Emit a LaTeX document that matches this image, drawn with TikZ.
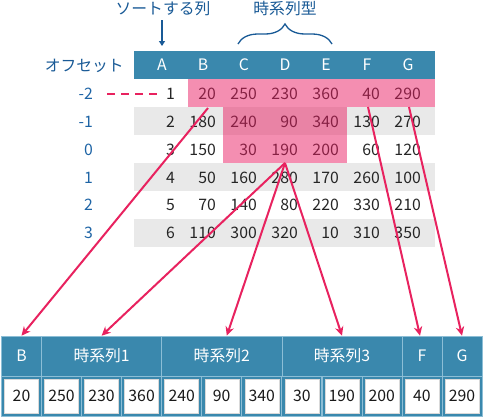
\documentclass[tikz,border=0pt]{standalone}
\usepackage{fontspec}
\setmainfont{Noto Sans CJK JP}
\usetikzlibrary{decorations.pathreplacing,arrows.meta}
\definecolor{hdr}{RGB}{58,136,173}
\definecolor{lbl}{RGB}{30,100,165}
\definecolor{dblue}{RGB}{25,90,150}
\definecolor{pk}{RGB}{233,30,99}
\definecolor{pkline}{RGB}{232,34,95}
\definecolor{rowgray}{RGB}{233,233,233}
\definecolor{sep}{RGB}{140,190,214}
\begin{document}
\begin{tikzpicture}[x=1pt,y=-1pt,
  font=\fontsize{15.8}{18}\selectfont,
  num/.style={anchor=east, inner sep=0pt, text=black!85},
  hd/.style={text=white, inner sep=0pt},
  rl/.style={text=lbl, anchor=east, inner sep=0pt},
  toplbl/.style={text=dblue, inner sep=0pt},
  conn/.style={pkline, line width=2pt, -{Stealth[length=9pt,width=8.5pt]}},
  bh/.style={fill=hdr, draw=sep, line width=0.6pt, text=white, minimum height=40pt, inner sep=0pt},
  cellbg/.style={fill=hdr, draw=sep, line width=0.6pt, minimum width=40pt, minimum height=40pt, inner sep=0pt},
  valbox/.style={fill=white, draw=black!15, line width=0.4pt, minimum width=34pt, minimum height=34pt, inner sep=0pt, text=black!90}]
\useasboundingbox (0,0) rectangle (483,418);

% top table header
\fill[hdr] (134,51) rectangle (435,79);
\foreach \c [count=\i] in {A,B,C,D,E,F,G}
  \node[hd] (h\c) at ({121+41*\i},65) {\c};

% row backgrounds
\foreach \r in {2,4,6}
  \fill[rowgray] (134,{79+28*(\r-1)}) rectangle (435,{79+28*\r});

% row labels
\node[toplbl, anchor=east] (offs) at (124,66) {オフセット};
\foreach \l [count=\r] in {-2,-1,0,1,2,3}
  \node[rl] (o\r) at (93,{94+27.8*(\r-1)}) {\l};

% cell values
\foreach \vals [count=\r] in {{1,20,250,230,360,40,290},{2,180,240,90,340,130,270},{3,150,30,190,200,60,120},{4,50,160,280,170,260,100},{5,70,140,80,220,330,210},{6,110,300,320,10,310,350}}{
  \foreach \v [count=\c] in \vals
    \node[num] (c\r-\c) at ({134+41*\c},{94+27.8*(\r-1)}) {\v};
}

% pink highlights
\fill[pk, opacity=0.5] (188,79) rectangle (222.6,107);
\fill[pk, opacity=0.5] (223.4,79) rectangle (346.6,163);
\fill[pk, opacity=0.5] (347.4,79) rectangle (435,107);

% top labels
\node[toplbl] (sortlbl) at (163,9) {ソートする列};
\node[toplbl] (tslbl) at (285,9) {時系列型};
\coordinate (sortend) at (162,46);
\draw[dblue, line width=1.3pt, -{Triangle[length=5pt,width=6pt]}] (sortlbl.south -| sortend) ++(0,4) -- (sortend);
\coordinate (brL) at (238,44);
\coordinate (brR) at (332,44);
\draw[dblue, line width=1.3pt, decorate, decoration={brace, amplitude=20pt, aspect=0.5}] (brL) -- (brR);

% dashed offset pointer
\draw[pkline, line width=2pt, dash pattern=on 8pt off 6pt] ([xshift=14pt]o1.east) -- ([xshift=-3pt]c1-1.west);

% bottom table header
\node[bh, minimum width=40pt] (hB2) at (21.5,356) {B};
\node[bh, minimum width=120.1pt] (hT1) at (101.6,356) {時系列1};
\node[bh, minimum width=120.1pt] (hT2) at (221.8,356) {時系列2};
\node[bh, minimum width=120.1pt] (hT3) at (342,356) {時系列3};
\node[bh, minimum width=40pt] (hF2) at (422,356) {F};
\node[bh, minimum width=40pt] (hG2) at (462,356) {G};

% bottom values
\foreach \v [count=\k from 0] in {20,250,230,360,240,90,340,30,190,200,40,290}{
  \node[cellbg] (bg\k) at ({21.5+40.04*\k},396) {};
  \node[valbox] (v\k) at (bg\k) {\v};
}

% connectors
\coordinate (sB) at (208,108);
\coordinate (sM) at (285,163);
\coordinate (sF) at (368,107);
\coordinate (sG) at (409,107);
\draw[conn] (sB) -- (hB2.north);
\draw[conn] (sM) -- (hT1.north);
\draw[conn] (sM) -- ([xshift=5pt]hT2.north);
\draw[conn] (sM) -- (hT3.north);
\draw[conn] (sF) -- ([xshift=-2pt]hF2.north);
\draw[conn] (sG) -- (hG2.north);
\end{tikzpicture}
\end{document}
